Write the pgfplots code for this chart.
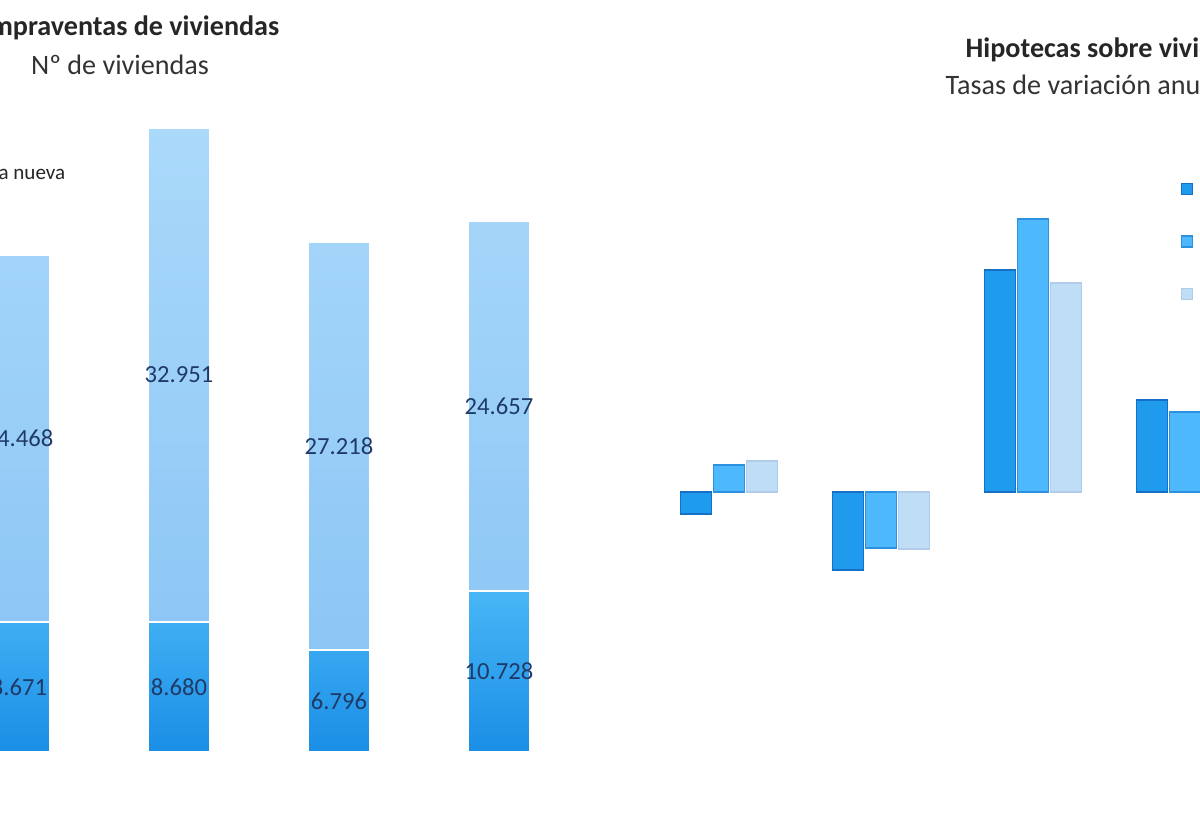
\documentclass[border=0pt]{standalone}
\usepackage{pgfplots}
\pgfplotsset{compat=1.18}
\usepackage{pgfplotstable}
\usepackage{fontspec}
\setmainfont{Carlito}
\definecolor{botTop}{HTML}{48B6F6}
\definecolor{botBot}{HTML}{1A8EE6}
\definecolor{topTop}{HTML}{AAD9FA}
\definecolor{topBot}{HTML}{8CC6F5}
\definecolor{lab}{HTML}{1F3A68}
\definecolor{hDark}{HTML}{1F9BEE}
\definecolor{hDarkB}{HTML}{1670C8}
\definecolor{hMid}{HTML}{4DB8FC}
\definecolor{hMidB}{HTML}{2E90E0}
\definecolor{hLight}{HTML}{C0DDF6}
\definecolor{hLightB}{HTML}{B0CCE8}
\pgfplotstableread{
x nueva usada
0 8671 24468
1 8680 32951
2 6796 27218
3 10728 24657
}\compraventas
\pgfplotstableread{
x y lab
0 4335.5 8.671
0 20905 24.468
1 4340 8.680
1 25155.5 32.951
2 3398 6.796
2 20405 27.218
3 5364 10.728
3 23056.5 24.657
}\etiquetas
\pgfplotstableread{
x a b c
0 -2.2 2.7 3.1
1 -7.8 -5.6 -5.7
2 22.2 27.3 20.9
3 9.2 8.0 7.0
}\hipotecas
\begin{document}
\begin{tikzpicture}
\useasboundingbox (0,0) rectangle (12,8.4);
\clip (0,0) rectangle (12,8.4);
\fill[white] (0,0) rectangle (12,8.4);
% left chart
\begin{axis}[
  at={(0cm,0.88cm)}, anchor=south west,
  scale only axis, width=6cm, height=7.52cm,
  xmin=-0.11875, xmax=3.63125, ymin=0, ymax=50133,
  axis lines=none, clip=true,
  ybar stacked, bar width=0.62cm,
]
\addplot[draw=white, line width=0.7pt, top color=botTop, bottom color=botBot] table[x=x, y=nueva] {\compraventas};
\addplot[draw=white, line width=0.7pt, top color=topTop, bottom color=topBot] table[x=x, y=usada] {\compraventas};
\end{axis}
\begin{axis}[
  at={(0cm,0.88cm)}, anchor=south west,
  scale only axis, width=6cm, height=7.52cm,
  xmin=-0.11875, xmax=3.63125, ymin=0, ymax=50133,
  axis lines=none, clip=true,
  nodes near coords, point meta=explicit symbolic,
  every node near coord/.append style={anchor=center, inner sep=0pt, font=\fontsize{7}{8}\selectfont, text=lab},
]
\addplot[only marks, mark=*, mark size=0pt, mark options={draw=none, fill=none}] table[x=x, y=y, meta=lab] {\etiquetas};
\end{axis}
% right chart
\begin{axis}[
  at={(6.4cm,2.0cm)}, anchor=south west,
  scale only axis, width=5.6cm, height=5cm,
  xmin=-0.5855, xmax=3.0987, ymin=-14.8, ymax=35.2,
  axis lines=none, clip=true,
  ybar=0.02cm, bar width=0.31cm,
  legend image code/.code={\fill[#1] (0cm,-0.55mm) rectangle (1.1mm,0.55mm);},
  legend style={draw=none, fill=none, at={(rel axis cs:0.9643,0.94)}, anchor=north west,
    inner sep=0pt, row sep=1.6mm, font=\fontsize{7}{8}\selectfont},
  legend cell align=left,
]
\addplot[fill=hDark, draw=hDarkB, line width=0.4pt] table[x=x, y=a] {\hipotecas};
\addplot[fill=hMid, draw=hMidB, line width=0.4pt] table[x=x, y=b] {\hipotecas};
\addplot[fill=hLight, draw=hLightB, line width=0.4pt] table[x=x, y=c] {\hipotecas};
\legend{Número de hipotecas, Capital prestado, Importe medio}
\end{axis}
% titles
\node[anchor=east, inner sep=0pt, font=\bfseries\fontsize{8}{9}\selectfont, text=black!85] at (2.80,8.12) {Compraventas de viviendas};
\node[inner sep=0pt, font=\fontsize{8}{9}\selectfont, text=black!80] at (1.20,7.75) {Nº de viviendas};
\node[anchor=east, inner sep=0pt, font=\fontsize{6}{7}\selectfont, text=black!85] at (0.66,6.68) {Vivienda nueva};
\node[anchor=west, inner sep=0pt, font=\bfseries\fontsize{8}{9}\selectfont, text=black!85] at (9.65,7.90) {Hipotecas sobre viviendas};
\node[anchor=west, inner sep=0pt, font=\fontsize{8}{9}\selectfont, text=black!80] at (9.45,7.55) {Tasas de variación anual};
\end{tikzpicture}
\end{document}
